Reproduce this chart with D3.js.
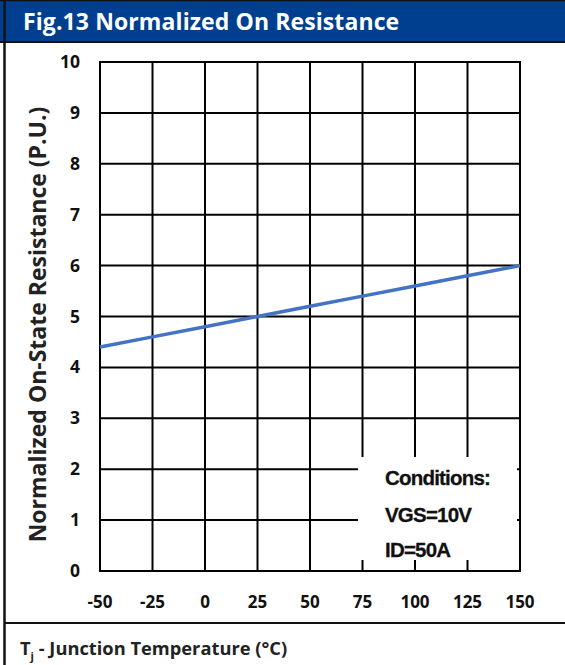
<!DOCTYPE html>
<html><head><meta charset="utf-8">
<script src="https://cdn.jsdelivr.net/npm/d3@7/dist/d3.min.js"></script>
<style>html,body{margin:0;padding:0;background:#fff;}svg{display:block;}</style>
</head><body>
<script>
const temps = [-50, -25, 0, 25, 50, 75, 100, 125, 150];
const resistance = [4.4, 4.6, 4.8, 5.0, 5.2, 5.4, 5.6, 5.8, 6.0];
const xTicks = [-50, -25, 0, 25, 50, 75, 100, 125, 150];
const yTicks = [0, 1, 2, 3, 4, 5, 6, 7, 8, 9, 10];
const conditions = ["Conditions:", "VGS=10V", "ID=50A"];
const title = "Fig.13 Normalized On Resistance";
const yTitle = "Normalized On-State Resistance (P.U.)";

const W = 565, H = 665;
const svg = d3.select("body").append("svg").attr("width", W).attr("height", H);
const font = "'Open Sans', 'Noto Sans', sans-serif";

// header
svg.append("rect").attr("x", 0).attr("y", 0).attr("width", W).attr("height", 42).attr("fill", "#003F8F");
svg.append("line").attr("x1", 0).attr("x2", W).attr("y1", 0.5).attr("y2", 0.5).attr("stroke", "#111").attr("stroke-width", 1.5);
svg.append("line").attr("x1", 0).attr("x2", W).attr("y1", 42).attr("y2", 42).attr("stroke", "#111").attr("stroke-width", 2);
svg.append("text").attr("x", 23).attr("y", 30).attr("fill", "#fff").attr("font-family", font)
  .attr("font-weight", 700).attr("font-size", 23).attr("letter-spacing", 0.1).text(title);
// left border
svg.append("line").attr("x1", 4.5).attr("x2", 4.5).attr("y1", 0).attr("y2", H).attr("stroke", "#111").attr("stroke-width", 2.5);
// footer separator
svg.append("line").attr("x1", 4).attr("x2", W).attr("y1", 623).attr("y2", 623).attr("stroke", "#111").attr("stroke-width", 2);

const x = d3.scaleLinear().domain([-50, 150]).range([100, 520]);
const y = d3.scaleLinear().domain([0, 10]).range([571, 62]);

const g = svg.append("g");
// grid
g.selectAll(".vg").data(xTicks).enter().append("line")
  .attr("x1", d => x(d)).attr("x2", d => x(d)).attr("y1", y(0)).attr("y2", y(10))
  .attr("stroke", "#000").attr("stroke-width", 2);
g.selectAll(".hg").data(yTicks).enter().append("line")
  .attr("x1", x(-50) - 1).attr("x2", x(150) + 1).attr("y1", d => y(d)).attr("y2", d => y(d))
  .attr("stroke", "#000").attr("stroke-width", 2);

// tick labels
g.selectAll(".yl").data(yTicks).enter().append("text")
  .attr("x", 80).attr("y", d => y(d) + 6).attr("text-anchor", "end")
  .attr("font-family", font).attr("font-weight", 700).attr("font-size", 17.5).attr("fill", "#111")
  .text(d => d);
g.selectAll(".xl").data(xTicks).enter().append("text")
  .attr("x", d => x(d)).attr("y", 608).attr("text-anchor", "middle")
  .attr("font-family", font).attr("font-weight", 700).attr("font-size", 17).attr("fill", "#111")
  .text(d => d);

// line
const line = d3.line().x((d, i) => x(temps[i])).y(d => y(d));
g.append("path").datum(resistance).attr("d", line).attr("fill", "none")
  .attr("stroke", "#4472C4").attr("stroke-width", 3.5);

// conditions box
g.append("rect").attr("x", 358).attr("y", 457).attr("width", 159).attr("height", 103).attr("fill", "#fff");
g.selectAll(".cond").data(conditions).enter().append("text")
  .attr("x", 385).attr("y", (d, i) => [485, 522, 557][i])
  .attr("font-family", "'Liberation Sans', Arial, sans-serif").attr("font-weight", 700)
  .attr("font-size", 20.5).attr("letter-spacing", -0.8).attr("fill", "#111")
  .attr("stroke", "#111").attr("stroke-width", 0.3).text(d => d);

// y title
svg.append("text").attr("transform", "translate(46," + ((y(0) + y(10)) / 2 + 8) + ") rotate(-90)")
  .attr("text-anchor", "middle").attr("font-family", font).attr("font-weight", 700)
  .attr("font-size", 23).attr("fill", "#222").text(yTitle);

// footer title
const ft = svg.append("text").attr("x", 20).attr("y", 655).attr("font-family", font)
  .attr("font-weight", 700).attr("font-size", 18.3).attr("fill", "#222");
ft.append("tspan").text("T");
ft.append("tspan").attr("font-size", 11).attr("dy", 5).text("j");
ft.append("tspan").attr("dy", -5).text(" - Junction Temperature (°C)");
</script>
</body></html>
